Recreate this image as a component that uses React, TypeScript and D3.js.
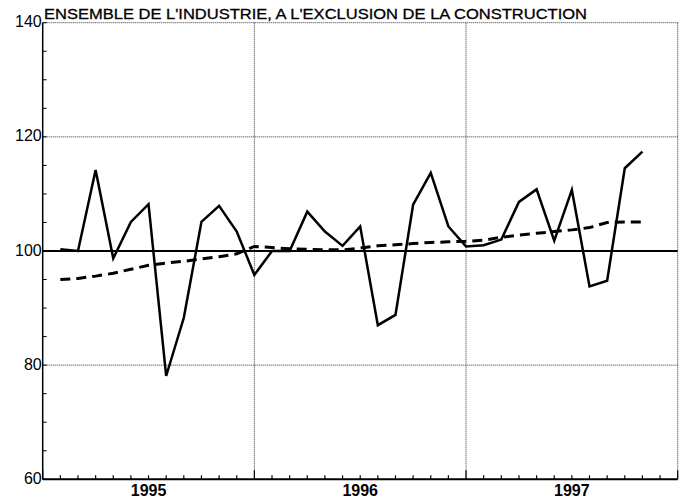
import React from 'react';
import * as d3 from 'd3';

const title = "ENSEMBLE DE L'INDUSTRIE, A L'EXCLUSION DE LA CONSTRUCTION";
const years = ['1995', '1996', '1997'];
// monthly values, Jan 1995 .. Oct 1997
const actual = [
  100.3, 100.0, 114.2, 98.7, 105.1, 108.2, 78.1, 88.3, 105.1, 107.9, 103.4, 95.8,
  100.0, 100.0, 106.9, 103.4, 100.9, 104.3, 87.0, 88.8, 108.1, 113.7, 104.3, 100.8,
  101.0, 102.0, 108.6, 110.8, 101.8, 110.7, 93.8, 94.8, 114.5, 117.4,
];
const trend = [
  95.0, 95.2, 95.6, 96.1, 96.8, 97.5, 97.9, 98.2, 98.6, 99.0, 99.5, 100.8,
  100.6, 100.4, 100.3, 100.2, 100.2, 100.5, 100.9, 101.1, 101.3, 101.5, 101.6, 101.7,
  101.9, 102.4, 102.8, 103.1, 103.4, 103.7, 104.1, 105.0, 105.1, 105.1,
];
const yTicks = [60, 80, 100, 120, 140];

const W = 689, H = 502;
const left = 42.7, right = 677.7, top = 22.7, bottom = 479.3;

const App = () => {
  const x = d3.scaleLinear().domain([0, 36]).range([left, right]);
  const y = d3.scaleLinear().domain([60, 140]).range([bottom, top]);
  // points are drawn at the end of each month
  const line = d3.line<number>().x((d, i) => x(i + 1)).y(d => y(d));
  const minorY = d3.range(60, 141, 5);
  const months = d3.range(0, 37);
  const font = '"Liberation Sans", Arial, sans-serif';

  return (
    <svg width={W} height={H} style={{ position: 'absolute', left: 0, top: 0, background: '#fff' }}
      fontFamily={font}>
      {/* dotted grid */}
      {[80, 120, 140].map(v => (
        <line key={v} x1={left} x2={right} y1={y(v)} y2={y(v)}
          stroke="#333" strokeWidth={1} strokeDasharray="1,1" />
      ))}
      {[12, 24, 36].map(m => (
        <line key={m} x1={x(m)} x2={x(m)} y1={top} y2={bottom}
          stroke="#333" strokeWidth={1} strokeDasharray="1,1" />
      ))}
      {/* reference line at 100 */}
      <line x1={left} x2={right} y1={y(100)} y2={y(100)} stroke="#000" strokeWidth={2} />
      {/* axes */}
      <line x1={left} x2={left} y1={top} y2={bottom} stroke="#000" strokeWidth={1.5} />
      <line x1={left} x2={right} y1={bottom} y2={bottom} stroke="#000" strokeWidth={2} />
      {minorY.map(v => (
        <line key={v} x1={left} x2={left + 4} y1={y(v)} y2={y(v)} stroke="#000" strokeWidth={1} />
      ))}
      {months.map(m => (
        <line key={m} x1={x(m)} x2={x(m)} y1={bottom} y2={bottom - (m % 12 === 0 ? 9 : 4)}
          stroke="#000" strokeWidth={1.2} />
      ))}
      {yTicks.map(v => (
        <text key={v} x={left - 1} y={y(v) - 1} dy="0.35em" textAnchor="end"
          fontSize={16} fill="#000">{v}</text>
      ))}
      {years.map((t, i) => (
        <text key={t} x={x(i * 12 + 6)} y={496} textAnchor="middle" fontSize={16}
          fontWeight="bold" fill="#000">{t}</text>
      ))}
      {/* series */}
      <path d={line(trend) || ''} fill="none" stroke="#000" strokeWidth={3}
        strokeDasharray="10,6" />
      <path d={line(actual) || ''} fill="none" stroke="#000" strokeWidth={2.5}
        strokeLinejoin="miter" />
      <text x={44} y={19} fontSize={15} fill="#000" textLength={543}
        lengthAdjust="spacingAndGlyphs" stroke="#000" strokeWidth={0.3}>{title}</text>
    </svg>
  );
};

export default App;
